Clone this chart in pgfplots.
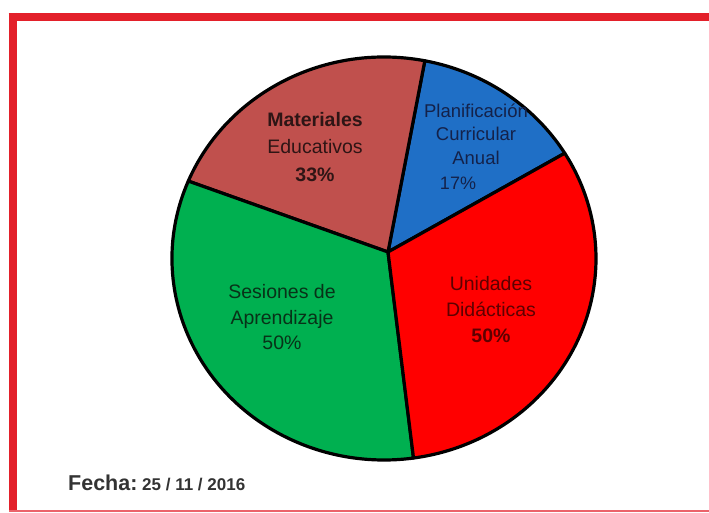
\documentclass[border=0pt]{standalone}
\usepackage{fontspec}
\setmainfont{Liberation Sans}
\usepackage{pgfplots}
\pgfplotsset{compat=1.18}

\definecolor{blueslice}{HTML}{1F6FC6}
\definecolor{brownslice}{HTML}{C0504D}
\definecolor{greenslice}{HTML}{00B050}
\definecolor{redslice}{HTML}{FF0000}
\definecolor{framered}{HTML}{E3202A}
\definecolor{bluetext}{HTML}{14224A}
\definecolor{browntext}{HTML}{2E1515}
\definecolor{greentext}{HTML}{083218}
\definecolor{redtext}{HTML}{5E0000}

\begin{document}
\begin{tikzpicture}
\begin{axis}[
    name=ax,
    scale only axis,
    width=709pt, height=512pt,
    xmin=0, xmax=709, ymin=0, ymax=512,
    hide axis,
    clip=false,
]
% frame
\draw[framered, line width=8pt] (axis cs:8.5,495) -- (axis cs:709,495);
\draw[framered, line width=8pt] (axis cs:12.5,499) -- (axis cs:12.5,0);
\draw[framered!70!white, line width=2pt] (axis cs:9,1) -- (axis cs:709,1);

% pie: ellipse centre (384,253.5), radii 212 x 201.5, hub at (388,260)
% slice angles
\filldraw[fill=blueslice, draw=black, line width=3.2pt, line join=round]
    (axis cs:388,260) -- (axis cs:{384+212*cos(31.5)},{253.5+201.5*sin(31.5)})
    arc[start angle=31.5, end angle=78.9, x radius=212pt, y radius=201.5pt] -- cycle;
\filldraw[fill=brownslice, draw=black, line width=3.2pt, line join=round]
    (axis cs:388,260) -- (axis cs:{384+212*cos(78.9)},{253.5+201.5*sin(78.9)})
    arc[start angle=78.9, end angle=157.4, x radius=212pt, y radius=201.5pt] -- cycle;
\filldraw[fill=greenslice, draw=black, line width=3.2pt, line join=round]
    (axis cs:388,260) -- (axis cs:{384+212*cos(157.4)},{253.5+201.5*sin(157.4)})
    arc[start angle=157.4, end angle=278, x radius=212pt, y radius=201.5pt] -- cycle;
\filldraw[fill=redslice, draw=black, line width=3.2pt, line join=round]
    (axis cs:388,260) -- (axis cs:{384+212*cos(278)},{253.5+201.5*sin(278)})
    arc[start angle=278, end angle=391.5, x radius=212pt, y radius=201.5pt] -- cycle;

% labels
\node[align=center, text=browntext, font=\fontsize{19.5}{27.5}\selectfont]
    at (axis cs:315,365) {\textbf{Materiales}\\Educativos\\\textbf{33\%}};
\node[align=center, text=bluetext, font=\fontsize{18.5}{23.5}\selectfont]
    at (axis cs:476,378) {Planificación\\Curricular\\Anual};
\node[text=bluetext, font=\fontsize{18}{20}\selectfont] at (axis cs:458,329) {17\%};
\node[align=center, text=greentext, font=\fontsize{19.5}{25.5}\selectfont]
    at (axis cs:282,194.5) {Sesiones de\\Aprendizaje\\50\%};
\node[align=center, text=redtext, font=\fontsize{19.5}{26}\selectfont]
    at (axis cs:491,202) {Unidades\\Didácticas\\\textbf{50\%}};

\node[anchor=base west, inner sep=0pt, text=black!80, font=\fontsize{21.5}{22}\selectfont\bfseries]
    at (axis cs:68,21.3) {Fecha:};
\node[anchor=base west, inner sep=0pt, text=black!80, font=\fontsize{17}{20}\selectfont\bfseries]
    at (axis cs:142,21.3) {25 / 11 / 2016};
\end{axis}
\pgfresetboundingbox
\path (ax.south west) rectangle (ax.north east);
\end{tikzpicture}
\end{document}
